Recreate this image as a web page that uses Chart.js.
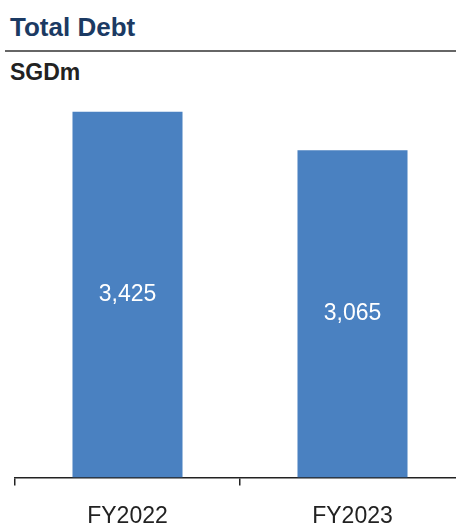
<!DOCTYPE html>
<html>
<head>
<meta charset="utf-8">
<script src="https://cdn.jsdelivr.net/npm/chart.js@4"></script>
<style>
  html, body { margin: 0; padding: 0; background: #fff; overflow: hidden; width: 456px; height: 523px; }
  #wrap { position: relative; width: 456px; height: 523px; overflow: hidden; }
  .title { position: absolute; left: 10px; top: 12px; font: bold 26px "Liberation Sans", Arial, sans-serif; color: #1b3a63; }
  .rule { position: absolute; left: 5px; top: 50px; width: 451px; height: 2px; background: #666; }
  .unit { position: absolute; left: 10px; top: 59px; font: bold 23px "Liberation Sans", Arial, sans-serif; color: #222; }
  canvas { position: absolute; left: 0; top: 0; }
</style>
</head>
<body>
<div id="wrap">
  <div class="title">Total Debt</div>
  <div class="rule"></div>
  <div class="unit">SGDm</div>
  <canvas id="chart" width="470" height="547"></canvas>
</div>
<script>
  // Chart data
  const categories = ['FY2022', 'FY2023'];
  const totalDebt = [3425, 3065];

  const barColor = '#4a81c1';
  const axisColor = '#222';

  // draws the value in the middle of each bar
  const barValueLabels = {
    id: 'barValueLabels',
    afterDatasetsDraw(chart) {
      const ctx = chart.ctx;
      const meta = chart.getDatasetMeta(0);
      ctx.save();
      ctx.fillStyle = '#fff';
      ctx.font = '23px "Liberation Sans", Arial, sans-serif';
      ctx.textAlign = 'center';
      ctx.textBaseline = 'middle';
      meta.data.forEach(function(bar, i) {
        const value = chart.data.datasets[0].data[i];
        ctx.fillText(value.toLocaleString('en-US'), bar.x, (bar.y + bar.base) / 2);
      });
      ctx.restore();
    }
  };

  new Chart(document.getElementById('chart'), {
    type: 'bar',
    data: {
      labels: categories,
      datasets: [{
        label: 'Total Debt',
        data: totalDebt,
        backgroundColor: barColor,
        borderWidth: 0,
        barPercentage: 1,
        categoryPercentage: 0.489
      }]
    },
    options: {
      responsive: false,
      devicePixelRatio: 1,
      animation: false,
      layout: {
        padding: { left: 15, right: 5, top: 93, bottom: 0 }
      },
      plugins: {
        legend: { display: false },
        tooltip: { enabled: false }
      },
      scales: {
        y: {
          display: false,
          min: 0,
          max: 3600
        },
        x: {
          offset: true,
          border: { display: true, color: axisColor, width: 1.5 },
          grid: {
            offset: true,
            drawOnChartArea: false,
            drawTicks: true,
            tickLength: 8,
            color: axisColor,
            lineWidth: 1.5
          },
          ticks: {
            color: axisColor,
            padding: 17,
            font: { family: '"Liberation Sans", Arial, sans-serif', size: 23 }
          }
        }
      }
    },
    plugins: [barValueLabels]
  });
</script>
</body>
</html>
